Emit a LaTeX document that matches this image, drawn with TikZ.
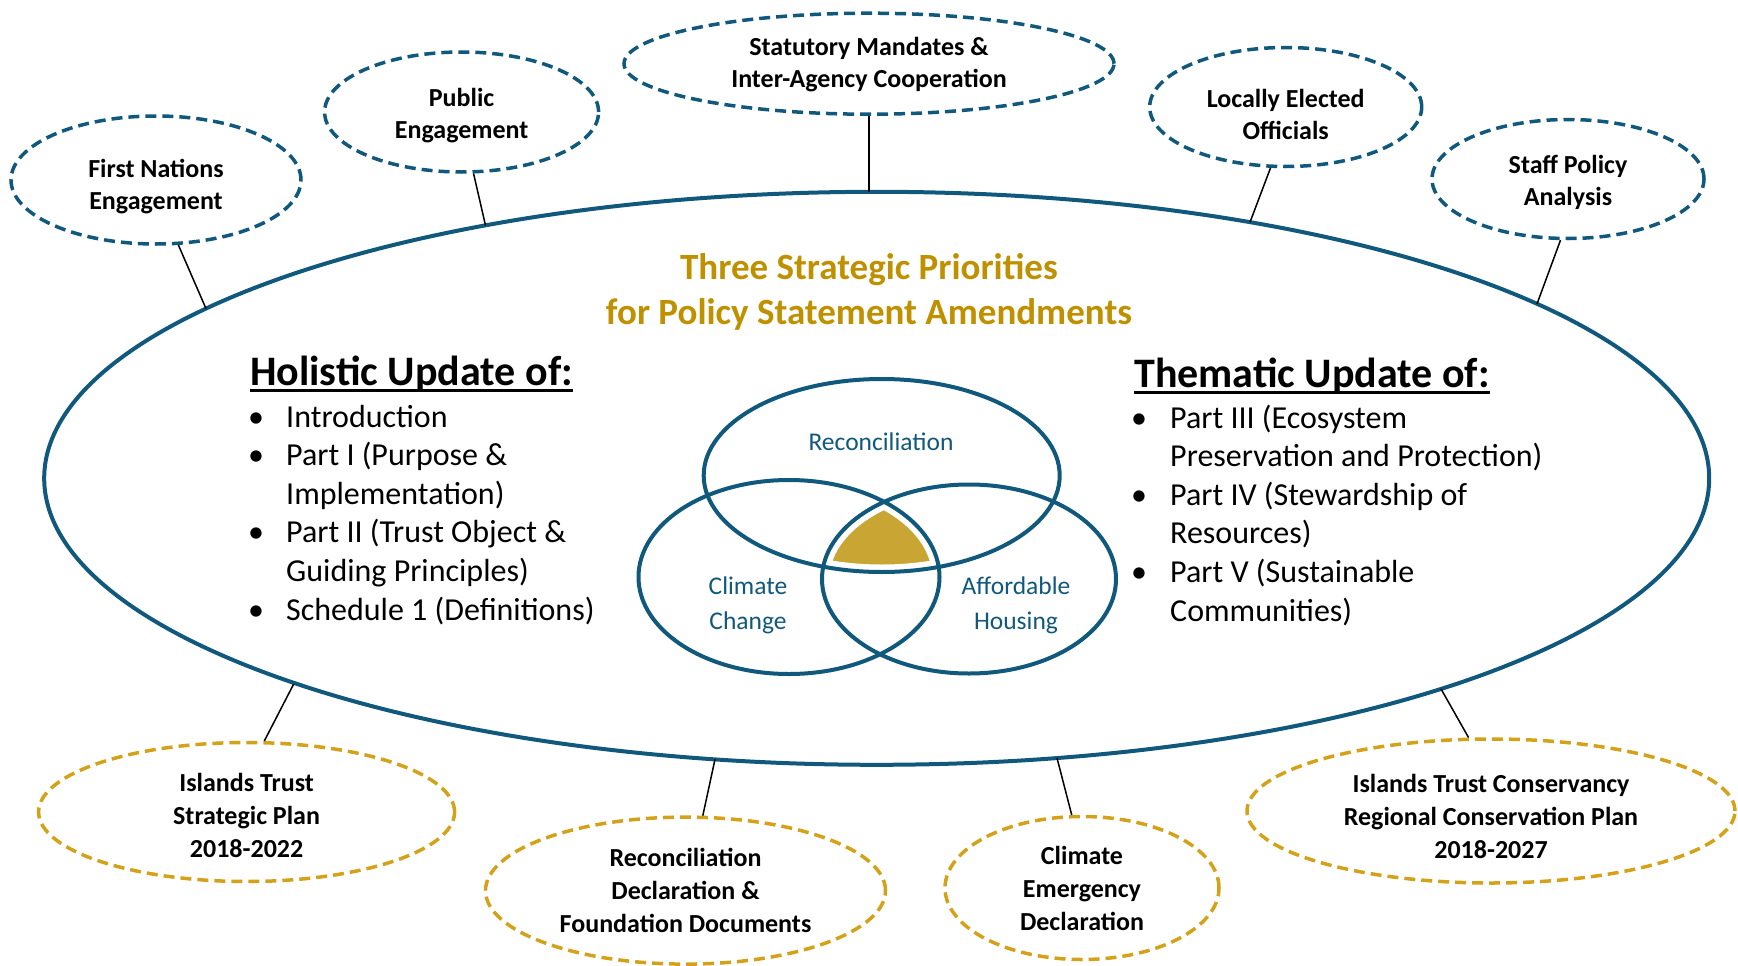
\documentclass[tikz,border=0pt]{standalone}
\usepackage{fontspec}
\setmainfont{Carlito}
\usetikzlibrary{shapes.geometric}
\definecolor{dblue}{RGB}{16,88,124}
\definecolor{tgold}{RGB}{191,144,0}
\definecolor{dgold}{RGB}{212,162,24}
\definecolor{fgold}{RGB}{201,165,52}
\newcommand{\ulbox}[1]{\setbox0=\hbox{#1}\rlap{\vrule width\wd0 height -3.5pt depth 6.5pt}\box0}
\begin{document}
\begin{tikzpicture}[x=1pt,y=-1pt,
  bigell/.style={ellipse, draw=dblue, line width=4pt, inner sep=0pt},
  topell/.style={ellipse, draw=dblue, line width=3.5pt, dash pattern=on 11pt off 6pt, inner sep=0pt},
  botell/.style={ellipse, draw=dgold, line width=3.5pt, dash pattern=on 11pt off 6pt, inner sep=0pt},
  toptext/.style={align=center, inner sep=0pt, font=\fontsize{26}{32}\selectfont\bfseries},
  bottext/.style={align=center, inner sep=0pt, font=\fontsize{26}{33}\selectfont\bfseries},
  link/.style={draw=black, line width=1.5pt},
  vennell/.style={ellipse, draw=dblue, line width=4pt, inner sep=0pt},
  vtext/.style={text=dblue, align=center, font=\fontsize{25.5}{35}\selectfont, inner sep=0pt},
  listbox/.style={anchor=base west, inner sep=0pt, font=\fontsize{32}{38.6}\selectfont},
  headbox/.style={anchor=base west, inner sep=0pt, font=\fontsize{42}{50}\selectfont\bfseries},
]
\useasboundingbox (0,0) rectangle (1738,966);

% main ellipse
\node[bigell, minimum width=1665pt, minimum height=573pt] (big) at (876.7,478.3) {};
% points on the main ellipse where the connectors meet it
\coordinate (bfn) at (206,308.6);
\coordinate (bpub) at (485.5,225.4);
\coordinate (bstat) at (869,191.9);
\coordinate (bloc) at (1250,222.2);
\coordinate (bstaff) at (1537,303.9);
\coordinate (bitsp) at (293.7,684);
\coordinate (brec) at (715,759.3);
\coordinate (bclim) at (1057,758);
\coordinate (bitc) at (1441,688.9);

% top (blue) dashed ellipses
\node[topell, minimum width=290pt, minimum height=128pt] (fn) at (156,180) {};
\node[topell, minimum width=274pt, minimum height=120pt] (pub) at (461.6,112) {};
\node[topell, minimum width=490pt, minimum height=101pt] (stat) at (869,63.7) {};
\node[topell, minimum width=272pt, minimum height=119pt] (loc) at (1285.7,107) {};
\node[topell, minimum width=272pt, minimum height=119pt] (staff) at (1568,179) {};
\node[toptext] (fnt) at (156,186.5) {First Nations\\Engagement};
\node[toptext] (pubt) at (461.6,115.5) {Public\\Engagement};
\node[toptext] (statt) at (869,65) {Statutory Mandates \&\\Inter-Agency Cooperation};
\node[toptext] (loct) at (1285.7,114) {Locally Elected\\Officials};
\node[toptext] (stafft) at (1568,182.5) {Staff Policy\\Analysis};

% bottom (gold) dashed ellipses
\node[botell, minimum width=416pt, minimum height=139pt] (itsp) at (246.6,812) {};
\node[botell, minimum width=400pt, minimum height=147pt] (rec) at (685.5,890.6) {};
\node[botell, minimum width=274pt, minimum height=143pt] (clim) at (1082,888) {};
\node[botell, minimum width=488pt, minimum height=144pt] (itc) at (1491,811) {};
\node[bottext] (itspt) at (246.6,815.5) {Islands Trust\\Strategic Plan\\2018-2022};
\node[bottext] (rect) at (685.5,890.6) {Reconciliation\\Declaration \&\\Foundation Documents};
\node[bottext] (climt) at (1082,888) {Climate\\Emergency\\Declaration};
\node[bottext] (itct) at (1491,816) {Islands Trust Conservancy\\Regional Conservation Plan\\2018-2027};

% connectors
\draw[link] (fn.-71.5) -- (bfn);
\draw[link] (pub.-79.9) -- (bpub);
\draw[link] (stat.south) -- (bstat);
\draw[link] (loc.-104.3) -- (bloc);
\draw[link] (staff.-97.9) -- (bstaff);
\draw[link] (itsp.76.5) -- (bitsp);
\draw[link] (rec.77.4) -- (brec);
\draw[link] (clim.98.7) -- (bclim);
\draw[link] (itc.107.7) -- (bitc);

% title
\node[text=tgold, align=center, font=\fontsize{37}{45}\selectfont\bfseries, inner sep=0pt] (title) at (869,292) {Three Strategic Priorities\\for Policy Statement Amendments};

% headings
\node[headbox] (hol) at (250,385) {\ulbox{Holistic Update of:}};
\node[headbox] (them) at (1134,387) {\ulbox{Thematic Update of:}};

% lists
\node[listbox] (hlist) at (248,427) {\begin{tabular}[t]{@{}p{38pt}@{}l@{}}
•&Introduction\\
•&Part I (Purpose \&\\
 &Implementation)\\
•&Part II (Trust Object \&\\
 &Guiding Principles)\\
•&Schedule 1 (Definitions)
\end{tabular}};
\node[listbox] (tlist) at (1131,428) {\begin{tabular}[t]{@{}p{39pt}@{}l@{}}
•&Part III (Ecosystem\\
 &Preservation and Protection)\\
•&Part IV (Stewardship of\\
 &Resources)\\
•&Part V (Sustainable\\
 &Communities)
\end{tabular}};

% venn centre fill
\begin{scope}
\clip (881.7,475.5) ellipse [x radius=178pt, y radius=96.5pt];
\clip (789,577) ellipse [x radius=150.5pt, y radius=97pt];
\clip (969,579) ellipse [x radius=147pt, y radius=94.5pt];
\fill[fgold, rounded corners=6pt] (700,400) rectangle (1100,700);
\end{scope}
\draw[white, line width=15pt] (881.7,475.5) ellipse [x radius=178pt, y radius=96.5pt];
\draw[white, line width=15pt] (789,577) ellipse [x radius=150.5pt, y radius=97pt];
\draw[white, line width=15pt] (969,579) ellipse [x radius=147pt, y radius=94.5pt];

% venn ellipses
\node[vennell, minimum width=356pt, minimum height=193pt] (vrec) at (881.7,475.5) {};
\node[vennell, minimum width=301pt, minimum height=194pt] (vcc) at (789,577) {};
\node[vennell, minimum width=294pt, minimum height=189pt] (vah) at (969,579) {};

\node[vtext] (trec) at (881,442) {Reconciliation};
\node[vtext] (tcc) at (748,605) {Climate\\Change};
\node[vtext] (tah) at (1016,605) {Affordable\\Housing};
\end{tikzpicture}
\end{document}
